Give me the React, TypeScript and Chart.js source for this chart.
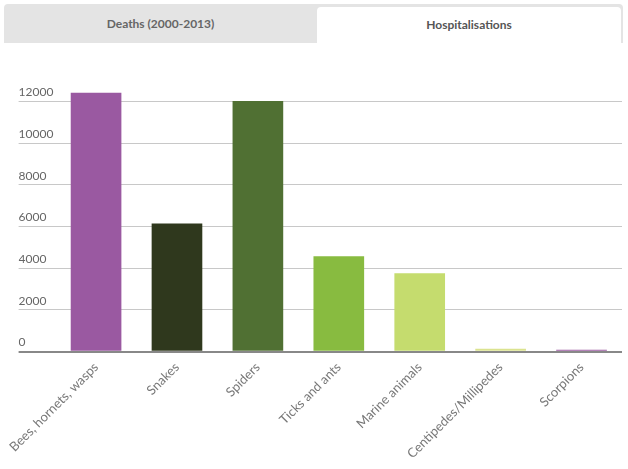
import React, { useEffect, useRef } from "react";
import { Chart, registerables } from "chart.js";

Chart.register(...registerables);

const tabLabels = ["Deaths (2000-2013)", "Hospitalisations"];
const categories = [
  "Bees, hornets, wasps",
  "Snakes",
  "Spiders",
  "Ticks and ants",
  "Marine animals",
  "Centipedes/Millipedes",
  "Scorpions",
];
const hospitalisations = [12400, 6130, 12000, 4560, 3740, 120, 70];
const barColors = ["#9a59a1", "#2f381d", "#507033", "#88bb40", "#c5dc6e", "#dbe38f", "#9a59a1"];
const yTicks = [0, 2000, 4000, 6000, 8000, 10000, 12000];
const yMin = 0;
const yMax = 12500;

const FONT = "Lato, 'Open Sans', sans-serif";

export default function App() {
  const ref = useRef<HTMLCanvasElement | null>(null);

  useEffect(() => {
    if (!ref.current) return;
    const chart = new Chart(ref.current, {
      type: "bar",
      data: {
        labels: categories,
        datasets: [
          {
            data: hospitalisations,
            backgroundColor: barColors,
            borderWidth: 0,
            barThickness: 50,
          },
        ],
      },
      options: {
        animation: false,
        responsive: false,
        maintainAspectRatio: false,
        layout: { padding: { left: 17, right: 6, top: 41, bottom: 0 } },
        plugins: { legend: { display: false }, tooltip: { enabled: false } },
        scales: {
          x: {
            grid: { display: false, drawTicks: false },
            border: { display: false },
            ticks: {
              autoSkip: false,
              maxRotation: 45,
              minRotation: 45,
              padding: 8,
              color: "#777",
              font: { family: FONT, size: 13 },
            },
            afterFit: (scale: any) => {
              scale.height = 117.5;
            },
          },
          y: {
            min: yMin,
            max: yMax,
            border: { display: false },
            afterBuildTicks: (scale: any) => {
              scale.ticks = yTicks.map((v) => ({ value: v }));
            },
            grid: {
              drawTicks: true,
              tickLength: 37,
              color: (c: any) => (c.tick && c.tick.value === 0 ? "#888888" : "#c8c8c8"),
              lineWidth: (c: any) => (c.tick && c.tick.value === 0 ? 2 : 1),
            },
            ticks: {
              crossAlign: "far",
              labelOffset: -9,
              padding: 0,
              color: "#666",
              font: { family: FONT, size: 12 },
              callback: (v: any) => String(v),
            },
            afterFit: (scale: any) => {
              scale.width = 37;
            },
          },
        },
      },
    });
    return () => chart.destroy();
  }, []);

  return (
    <div
      style={{
        position: "fixed",
        left: 0,
        top: 0,
        width: 628,
        height: 469,
        background: "#fff",
        fontFamily: FONT,
      }}
    >
      <div
        style={{
          position: "absolute",
          left: 4,
          top: 4,
          width: 619,
          height: 39,
          background: "#e4e4e4",
          borderRadius: "4px 4px 0 0",
        }}
      >
        <div
          style={{
            position: "absolute",
            left: 0,
            top: 0,
            width: 313,
            height: 39,
            lineHeight: "39px",
            textAlign: "center",
            fontSize: 12,
            color: "#666",
            fontWeight: 700,
          }}
        >
          {tabLabels[0]}
        </div>
        <div
          style={{
            position: "absolute",
            left: 313,
            top: 3,
            width: 304,
            height: 36,
            lineHeight: "36px",
            textAlign: "center",
            background: "#fff",
            borderRadius: "4px 4px 0 0",
            fontSize: 12,
            color: "#555",
            fontWeight: 700,
          }}
        >
          {tabLabels[1]}
        </div>
      </div>
      <canvas
        ref={ref}
        width={628}
        height={419}
        style={{ position: "absolute", left: 0, top: 50, width: 628, height: 419 }}
      />
    </div>
  );
}
